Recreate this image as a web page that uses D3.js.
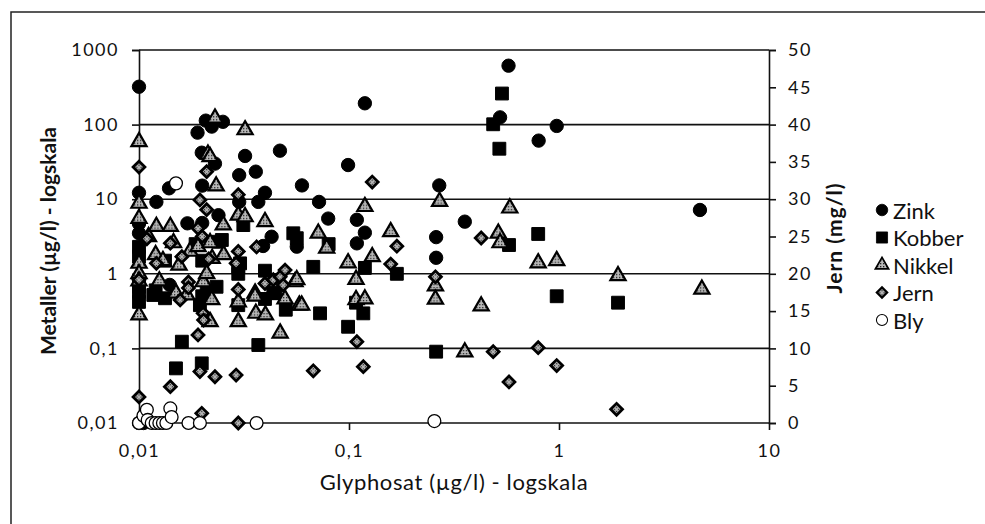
<!DOCTYPE html>
<html><head><meta charset="utf-8">
<script src="https://cdn.jsdelivr.net/npm/d3@7"></script>
<style>
body{margin:0;background:#fff}
text{font-family:Lato,"Open Sans",sans-serif;fill:#111}
.tk text{font-size:18px;letter-spacing:1.5px;font-family:Lato,sans-serif}
</style>
</head><body>
<svg id="c" width="985" height="524"></svg>
<script>
// ---- data (glyphosat µg/l, metal value) ----
const zink = [[0.01,322],[0.01,12.2],[0.01,4.7],[0.01,3.5],[0.01,0.01],[0.0105,0.01],[0.0121,9.2],[0.0139,14],[0.014,0.71],
 [0.017,4.75],[0.019,78],[0.0208,113],[0.0222,94],[0.0251,109],[0.0199,42],[0.023,30],[0.02,15.2],[0.02,4.8],[0.0239,6.1],
 [0.032,38],[0.030,21],[0.036,23.4],[0.0469,44.7],[0.0398,12.2],[0.030,9.2],[0.037,9.2],[0.0428,3.14],[0.039,2.36],
 [0.0564,2.31],[0.0597,15.3],[0.072,9.2],[0.0796,5.5],[0.099,28.7],[0.109,5.3],[0.119,193],[0.109,2.56],[0.119,3.56],
 [0.26,3.1],[0.26,1.64],[0.269,15.3],[0.356,5.0],[0.524,125],[0.575,616],[0.80,61],[0.975,96],[4.69,7.17]];
const kobber = [[0.01,2.3],[0.01,1.7],[0.01,0.67],[0.01,0.575],[0.01,0.42],[0.0117,0.52],[0.012,0.6],[0.0133,0.47],
 [0.0133,1.5],[0.015,0.054],[0.016,0.123],[0.0186,2.5],[0.0195,0.38],[0.0199,0.063],[0.02,1.5],[0.02,0.5],[0.021,0.55],
 [0.0234,0.67],[0.0239,2.69],[0.0248,2.84],[0.0297,1.24],[0.0297,1.0],[0.0297,0.38],[0.0303,1.38],[0.0314,4.5],
 [0.037,0.111],[0.0398,1.1],[0.0398,0.46],[0.0436,0.55],[0.0445,0.55],[0.050,0.33],[0.0543,3.49],[0.0564,3.0],
 [0.0676,1.24],[0.0728,0.295],[0.08,2.5],[0.099,0.195],[0.108,0.41],[0.117,0.295],[0.119,1.2],[0.169,1.0],[0.26,0.0904],
 [0.486,101],[0.52,47.5],[0.535,261],[0.578,2.43],[0.796,3.42],[0.975,0.50],[1.91,0.41]];
const nikkel = [[0.01,59],[0.01,8.8],[0.01,5.5],[0.01,1.38],[0.01,1.0],[0.01,0.8],[0.01,0.28],[0.0111,3.14],[0.0121,4.3],
 [0.012,1.8],[0.0125,0.8],[0.013,1.5],[0.0141,4.3],[0.0146,2.6],[0.015,0.55],[0.0155,1.3],[0.0169,0.52],[0.0175,2.0],
 [0.0191,2.3],[0.0202,0.78],[0.0213,40],[0.0218,37],[0.0218,2.6],[0.0218,0.228],[0.021,1.0],[0.0222,0.45],[0.0223,1.6],
 [0.023,122],[0.0233,15],[0.0252,4.5],[0.0253,1.8],[0.0297,6.1],[0.0297,0.42],[0.0297,0.228],[0.032,85],[0.032,5.8],
 [0.0357,0.55],[0.0357,0.5],[0.036,0.295],[0.0398,5.0],[0.040,0.28],[0.047,0.16],[0.0496,0.46],[0.0553,0.78],
 [0.0564,0.83],[0.058,0.38],[0.0595,0.38],[0.0714,3.49],[0.0783,2.2],[0.099,1.4],[0.108,0.84],[0.108,0.45],[0.119,0.46],
 [0.119,7.95],[0.129,1.69],[0.158,3.66],[0.258,0.685],[0.258,0.455],[0.27,9.3],[0.356,0.0896],[0.426,0.37],[0.514,3.49],
 [0.524,2.6],[0.583,7.6],[0.796,1.4],[0.975,1.5],[1.91,0.94],[4.79,0.62]];
// Jern in mg/l, right (linear) axis
const jern = [[0.01,34.3],[0.01,19.2],[0.01,3.5],[0.0109,24.7],[0.0121,21.4],[0.0141,24.1],[0.0141,4.87],[0.0157,16.5],
 [0.016,22.3],[0.0172,18.9],[0.0172,18.1],[0.0191,26.1],[0.0191,11.8],[0.0195,29.9],[0.0195,6.9],[0.02,25],[0.0199,1.3],
 [0.0202,14.7],[0.0203,13.8],[0.021,33.7],[0.021,28.6],[0.0215,22],[0.023,6.2],[0.029,21.4],[0.029,6.43],[0.0297,30.6],
 [0.0297,23.0],[0.0297,17.9],[0.0297,0],[0.0363,23.6],[0.0398,18.7],[0.0436,19.2],[0.047,19.6],[0.0496,20.5],
 [0.0486,18.5],[0.0676,7.0],[0.109,10.9],[0.117,7.55],[0.129,32.3],[0.158,21.3],[0.169,23.7],[0.258,19.6],[0.426,24.8],
 [0.486,9.56],[0.578,5.5],[0.796,10.1],[0.975,7.7],[1.88,1.84]];
const bly = [[0.01,0.01],[0.0105,0.0125],[0.0109,0.015],[0.011,0.011],[0.0115,0.01],[0.012,0.01],[0.0125,0.01],
 [0.013,0.01],[0.0135,0.01],[0.0141,0.0157],[0.0143,0.012],[0.015,16.3],[0.0172,0.01],[0.0195,0.01],[0.0363,0.01],[0.255,0.0106]];

const xTicks = [0.01,0.1,1,10];
const yTicks = [0.01,0.1,1,10,100,1000];
const jTicks = [0,5,10,15,20,25,30,35,40,45,50];
const seriesNames = ["Zink","Kobber","Nikkel","Jern","Bly"];

const fmt = v => String(v).replace(".", ",");

const svg = d3.select("#c");
const defs = svg.append("defs");
const pat = defs.append("pattern").attr("id","dots").attr("width",3).attr("height",3).attr("patternUnits","userSpaceOnUse");
pat.append("rect").attr("width",3).attr("height",3).attr("fill","#b8b8b8");
pat.append("rect").attr("x",1).attr("y",1).attr("width",1.3).attr("height",1.3).attr("fill","#222");

const x = d3.scaleLog().domain([0.01,10]).range([139,769]);
const y = d3.scaleLog().domain([0.01,1000]).range([423,50]);
const yj = d3.scaleLinear().domain([0,50]).range([423,50]);

// frame
svg.append("path").attr("d","M11,524 V12 H985").attr("fill","none").attr("stroke","#222").attr("stroke-width",1.5);

// gridlines
svg.append("g").selectAll("line").data(yTicks).join("line")
  .attr("x1",139).attr("x2",769).attr("y1",d=>y(d)).attr("y2",d=>y(d))
  .attr("stroke","#111").attr("stroke-width",1.6);

function styleTicks(g){
  g.attr("class","tk").attr("font-size",null).attr("font-family",null);
  g.selectAll(".tick line").attr("stroke","#111").attr("stroke-width",1.6);
  g.selectAll("text").attr("fill","#111");
}

// left axis
const gL = svg.append("g").attr("transform","translate(139,0)")
  .call(d3.axisLeft(y).tickValues(yTicks).tickFormat(fmt).tickSize(7).tickPadding(13));
gL.select(".domain").attr("stroke","#111").attr("stroke-width",1.6);
styleTicks(gL);

// right axis
const gR = svg.append("g").attr("transform","translate(769,0)")
  .call(d3.axisRight(yj).tickValues(jTicks).tickSize(7).tickPadding(12));
gR.select(".domain").attr("stroke","#111").attr("stroke-width",1.6);
styleTicks(gR);

// bottom axis
const gB = svg.append("g").attr("transform","translate(0,423)")
  .call(d3.axisBottom(x).tickValues(xTicks).tickFormat(fmt).tickSize(7).tickPadding(14));
gB.select(".domain").remove();
styleTicks(gB);

// symbols
const sym = {
  Zink:   {type:d3.symbolCircle, size:140, fill:"#000", stroke:"#000", sw:1, rot:0},
  Kobber: {type:d3.symbolSquare, size:165, fill:"#000", stroke:"#000", sw:1, rot:0},
  Nikkel: {type:d3.symbolTriangle, size:100, fill:"url(#dots)", stroke:"#000", sw:2.2, rot:0},
  Jern:   {type:d3.symbolSquare, size:70, fill:"url(#dots)", stroke:"#000", sw:2.8, rot:45},
  Bly:    {type:d3.symbolCircle, size:130, fill:"#fff", stroke:"#000", sw:1.3, rot:0}
};
const dataSets = {Zink:zink, Kobber:kobber, Nikkel:nikkel, Jern:jern, Bly:bly};

seriesNames.forEach(n=>{
  const s = sym[n];
  const yy = n==="Jern" ? yj : y;
  svg.append("g").selectAll("path").data(dataSets[n]).join("path")
    .attr("d", d3.symbol().type(s.type).size(s.size))
    .attr("transform", d=>`translate(${x(d[0])},${yy(d[1])}) rotate(${s.rot})`)
    .attr("fill", s.fill).attr("stroke", s.stroke).attr("stroke-width", s.sw);
});

// titles
svg.append("text").attr("transform","translate(47,241) rotate(-90)").attr("text-anchor","middle")
  .attr("dominant-baseline","central").style("font-size","21px").style("font-weight","bold")
  .text("Metaller (µg/l) - logskala");
svg.append("text").attr("transform","translate(833,238) rotate(-90)").attr("text-anchor","middle")
  .attr("dominant-baseline","central").style("font-size","21px").style("font-weight","bold")
  .style("letter-spacing","1px")
  .text("Jern (mg/l)");
svg.append("text").attr("x",454).attr("y",490).attr("text-anchor","middle").style("font-size","22px")
  .style("letter-spacing","0.6px")
  .text("Glyphosat (µg/l) - logskala");

// legend
const lg = svg.append("g");
seriesNames.forEach((n,i)=>{
  const s = sym[n];
  const cy = 210 + i*27.5;
  lg.append("path").attr("d", d3.symbol().type(s.type).size(s.size*0.75))
    .attr("transform",`translate(882,${cy}) rotate(${s.rot})`)
    .attr("fill", s.fill).attr("stroke", s.stroke).attr("stroke-width", s.sw*0.8);
  lg.append("text").attr("x",893).attr("y",cy).attr("dominant-baseline","central")
    .style("font-size","22px").text(n);
});
</script>
</body></html>
